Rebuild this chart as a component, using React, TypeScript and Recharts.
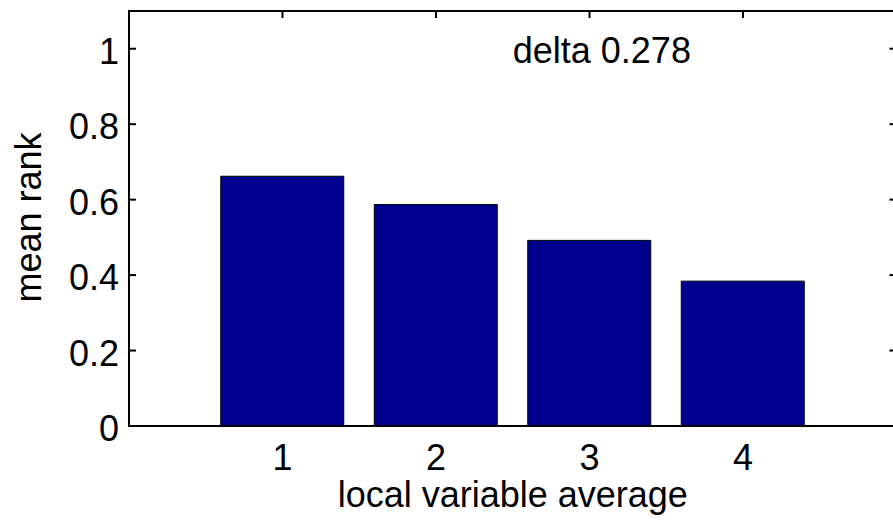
import React from "react";
import {
  BarChart,
  Bar,
  XAxis,
  YAxis,
  ReferenceDot,
  ReferenceArea,
  ReferenceLine,
} from "recharts";

const positions = [1, 2, 3, 4];
const meanRank = [0.662, 0.587, 0.492, 0.384];
const xTicks = [1, 2, 3, 4];
const yTicks = [0, 0.2, 0.4, 0.6, 0.8, 1];
const deltaText = "delta 0.278";
const deltaAt = { x: 2.5, y: 1 };

const data = positions.map((p, i) => ({ pos: p, rank: meanRank[i] }));

const FONT = "'Liberation Sans', Arial, Helvetica, sans-serif";
const FS = 36;
const TICK = 7;

function LeftTick(props: any) {
  const { x, y, payload } = props;
  return (
    <text x={x} y={y} dy={15} textAnchor="end" fontSize={FS} fill="#000" fontFamily={FONT}>
      {payload.value}
    </text>
  );
}

// inward tick marks on the left and right edges of the box
function SideTicks(props: any) {
  const { x1, x2, y1 } = props;
  const l = Math.min(x1, x2);
  const r = Math.max(x1, x2);
  return (
    <g>
      <line x1={l} x2={l + TICK} y1={y1} y2={y1} stroke="#000" strokeWidth={2} />
      <line x1={r - TICK} x2={r} y1={y1} y2={y1} stroke="#000" strokeWidth={2} />
    </g>
  );
}

// inward tick marks on the top edge
function TopTick(props: any) {
  const { x1, y1, y2 } = props;
  const t = Math.min(y1, y2);
  return <line x1={x1} x2={x1} y1={t} y2={t + TICK} stroke="#000" strokeWidth={2} />;
}

function YTitle(props: any) {
  const vb = props.viewBox;
  const cx = vb.x + 41;
  const cy = vb.y + vb.height / 2 - 1;
  return (
    <text
      x={cx}
      y={cy}
      transform={`rotate(-90, ${cx}, ${cy})`}
      textAnchor="middle"
      fontSize={FS}
      fill="#000"
      fontFamily={FONT}
    >
      mean rank
    </text>
  );
}

function DeltaLabel(props: any) {
  const vb = props.viewBox;
  const x = vb.x + vb.width / 2;
  const y = vb.y + vb.height / 2;
  return (
    <text x={x} y={y} dy={14} textAnchor="start" fontSize={FS} fill="#000" fontFamily={FONT}>
      {deltaText}
    </text>
  );
}

export default function App() {
  return (
    <div
      style={{
        position: "absolute",
        left: 0,
        top: 0,
        width: 893,
        height: 525,
        overflow: "hidden",
        background: "#fff",
        fontFamily: FONT,
      }}
    >
      <BarChart
        width={900}
        height={525}
        data={data}
        margin={{ top: 11, right: 3.5, left: 0, bottom: 45 }}
      >
        <XAxis
          xAxisId="b"
          dataKey="pos"
          type="number"
          domain={[0, 5]}
          ticks={xTicks}
          height={54}
          tickLine={false}
          tickSize={0}
          tickMargin={18}
          axisLine={{ stroke: "#000", strokeWidth: 2 }}
          tick={{ fontSize: FS, fill: "#000", fontFamily: FONT }}
          label={{
            value: "local variable average",
            position: "bottom",
            offset: 1,
            fontSize: FS,
            fill: "#000",
            fontFamily: FONT,
          }}
        />
        <YAxis
          yAxisId="l"
          type="number"
          domain={[0, 1.1]}
          ticks={yTicks}
          width={129}
          tickLine={false}
          tickSize={0}
          tickMargin={10}
          axisLine={{ stroke: "#000", strokeWidth: 2 }}
          tick={<LeftTick />}
          label={<YTitle />}
        />
        <ReferenceArea
          xAxisId="b"
          yAxisId="l"
          x1={0}
          x2={5}
          y1={0}
          y2={1.1}
          fill="none"
          fillOpacity={0}
          stroke="#000"
          strokeWidth={2}
        />
        {yTicks.slice(1).map((v) => (
          <ReferenceLine key={`y${v}`} xAxisId="b" yAxisId="l" y={v} shape={<SideTicks />} />
        ))}
        {xTicks.map((v) => (
          <ReferenceLine key={`x${v}`} xAxisId="b" yAxisId="l" x={v} shape={<TopTick />} />
        ))}
        <Bar
          xAxisId="b"
          yAxisId="l"
          dataKey="rank"
          barSize={123}
          fill="#00008F"
          stroke="#000"
          strokeWidth={1}
          isAnimationActive={false}
        />
        <ReferenceDot
          xAxisId="b"
          yAxisId="l"
          x={deltaAt.x}
          y={deltaAt.y}
          r={1}
          fill="none"
          stroke="none"
          label={<DeltaLabel />}
        />
      </BarChart>
    </div>
  );
}
